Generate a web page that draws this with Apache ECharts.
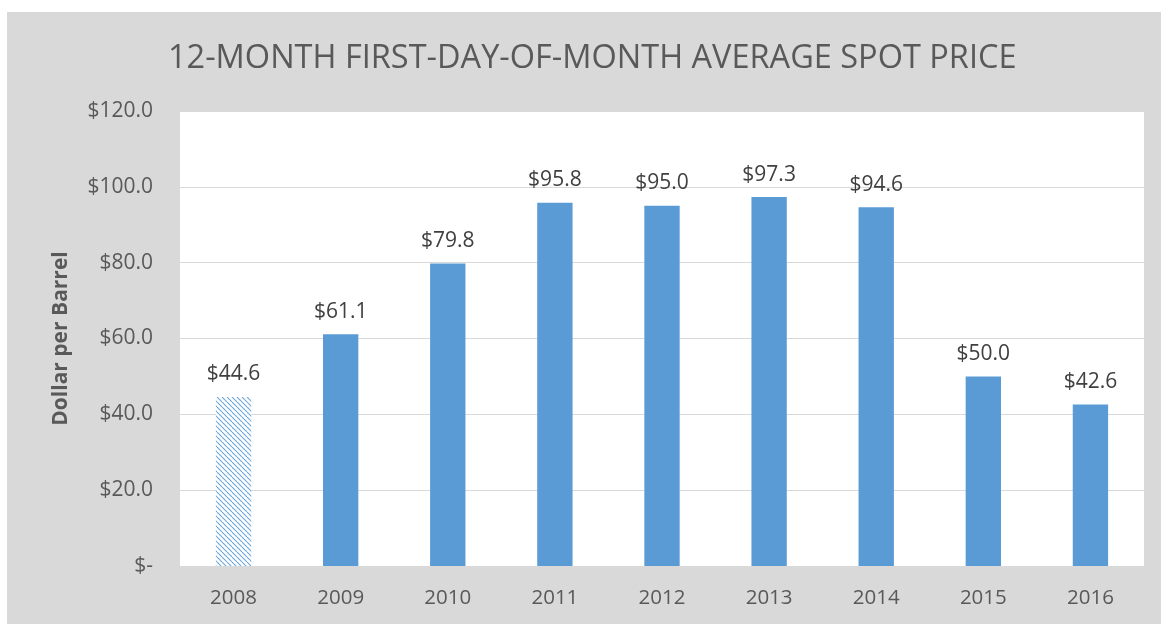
<!DOCTYPE html>
<html>
<head>
<meta charset="utf-8">
<script src="https://cdn.jsdelivr.net/npm/echarts@6/dist/echarts.min.js"></script>
<style>
  html, body { margin: 0; padding: 0; background: #fff; }
  /* grey chart panel, offset like the original export */
  #chart { position: absolute; left: 7px; top: 12px; width: 1154px; height: 612px; }
</style>
</head>
<body>
<div id="chart"></div>
<script>
// data
const years = ['2008', '2009', '2010', '2011', '2012', '2013', '2014', '2015', '2016']
const prices = [44.6, 61.1, 79.8, 95.8, 95.0, 97.3, 94.6, 50.0, 42.6]
const yTickLabels = ['$-', '$20.0', '$40.0', '$60.0', '$80.0', '$100.0', '$120.0']

const blue = '#5b9bd5'
const textColor = '#595959'
const font = '"Open Sans", "Liberation Sans", sans-serif'

// hatched fill for the 2008 bar (diagonal lines going down-right)
const makeHatch = () => {
    const s = 5
    const c = document.createElement('canvas')
    c.width = s
    c.height = s
    const ctx = c.getContext('2d')
    ctx.fillStyle = '#ffffff'
    ctx.fillRect(0, 0, s, s)
    ctx.strokeStyle = '#6aa5dc'
    ctx.lineWidth = 1.1
    for (const off of [-s, 0, s]) {
        ctx.beginPath()
        ctx.moveTo(off, 0)
        ctx.lineTo(off + s, s)
        ctx.stroke()
    }
    return c
}

const chart = echarts.init(document.getElementById('chart'))
const hatch = { image: makeHatch(), repeat: 'repeat' }

const option = {
    backgroundColor: '#d9d9d9',
    animation: false,
    title: {
        text: '12-MONTH FIRST-DAY-OF-MONTH AVERAGE SPOT PRICE',
        left: 156,
        top: 25,
        textStyle: { color: textColor, fontFamily: font, fontSize: 32.5, fontWeight: 'normal' }
    },
    grid: { left: 173, top: 99, right: 17, bottom: 58, backgroundColor: '#ffffff', show: true, borderWidth: 0 },
    xAxis: {
        type: 'category',
        data: years,
        axisLine: { show: false },
        axisTick: { show: false },
        axisLabel: { color: textColor, fontFamily: font, fontSize: 20.5, margin: 22 }
    },
    yAxis: {
        type: 'value',
        min: 0,
        max: 120,
        interval: 20,
        name: 'Dollar per Barrel',
        nameLocation: 'middle',
        nameGap: 108,
        nameRotate: 90,
        nameTextStyle: { color: textColor, fontFamily: font, fontSize: 21, fontWeight: 'bold' },
        axisLine: { show: false },
        axisTick: { show: false },
        splitLine: { lineStyle: { color: '#d9d9d9', width: 1 } },
        axisLabel: {
            color: textColor,
            fontFamily: font,
            fontSize: 21,
            margin: 27,
            formatter: v => yTickLabels[Math.round(v / 20)]
        }
    },
    series: [{
        type: 'bar',
        barWidth: '33%',
        data: prices.map((v, i) => ({
            value: v,
            itemStyle: { color: i === 0 ? hatch : blue }
        })),
        label: {
            show: true,
            position: 'top',
            distance: 12,
            color: '#404040',
            fontFamily: font,
            fontSize: 21,
            formatter: p => '$' + p.value.toFixed(1)
        }
    }]
}
chart.setOption(option)
</script>
</body>
</html>
